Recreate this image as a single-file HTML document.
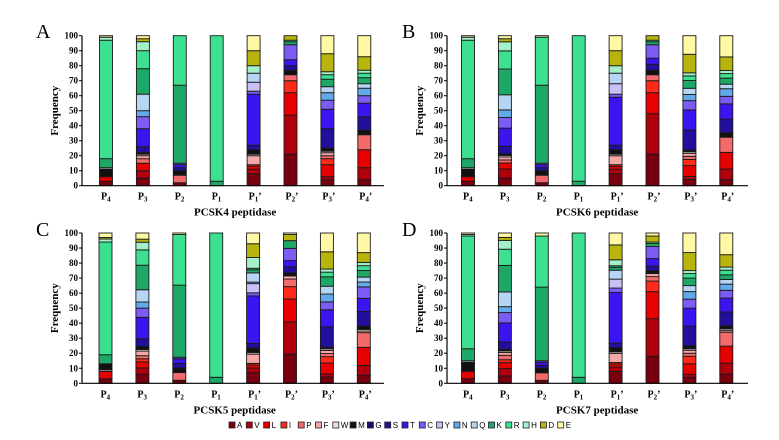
<!DOCTYPE html>
<html><head><meta charset="utf-8">
<style>
html,body{margin:0;padding:0;background:#fff;}
svg{display:block;font-family:"Liberation Serif",serif;}
</style></head>
<body>
<svg id="chart" width="779" height="440" viewBox="0 0 779 440"></svg>
<script>
const aminoAcids = ["A","V","L","I","P","F","W","M","G","S","T","C","Y","N","Q","K","R","H","D","E"];
const aaColors = ["#78000e","#b0000c","#e60000","#ff2a1a","#f26a6a","#f6a8a8","#f3dede","#111111","#14106a","#22109c","#3c14f0","#7c5cf4","#c9c0f8","#62aaea","#b6d4f4","#1ea868","#3ce090","#a4f0c8","#b8b40c","#fff8a4"];
const positions = ["P4","P3","P2","P1","P1'","P2'","P3'","P4'"];
const yTicks = [0,10,20,30,40,50,60,70,80,90,100];
// values per position, in aminoAcids order A..E
const pcsk4 = [
 [3,0,3,0,0,0,0,5,0,0,0,0,0,0,1,6,79,2,0,1],
 [5,5,5,0,3,2,1,1,0,4,12,8,0,4,11,17,12,6,2,2],
 [2,0,0,0,5,0,0,3,0,2,2,1,0,0,0,52,33,0,0,0],
 [0,0,0,0,0,0,0,0,0,0,0,0,0,0,0,3,97,0,0,0],
 [8,3,2,1,0,6,1,3,0,3,34,2,6,0,6,0,0,5,10,10],
 [21,26,15,8,4,0,0,3,0,3,4,10,0,0,0,2,1,0,3,0],
 [4,2,8,4,2,2,1,2,0,13,13,6,0,5,4,5,3,2,12,12],
 [4,8,12,0,10,0,0,3,0,9,9,5,0,5,3,4,3,2,9,14]
];
const pcsk6 = [
 [3,0,3,0,0,0,0,5,0,0,0,0,0,0,1,6,79,2,0,1],
 [5,6,4,0,2,2,1,1,0,5,12,7,0,5,10,17,12,6,2,2],
 [2,0,0,0,5,0,0,3,0,2,2,1,0,0,0,52,32,0,0,1],
 [0,0,0,0,0,0,0,0,0,0,0,0,0,0,0,3,97,0,0,0],
 [8,3,2,1,0,6,1,3,0,3,32,2,7,0,7,0,0,5,10,10],
 [21,27,14,8,4,0,0,3,0,4,4,9,0,0,0,2,1,0,3,0],
 [4,2,7,4,2,2,1,1,0,13,13,6,0,4,4,5,3,2,12,12],
 [4,7,11,0,10,0,0,3,0,9,10,5,0,5,3,4,3,2,9,14]
];
const pcsk5 = [
 [3,0,5,0,0,0,1,4,0,0,0,0,0,0,0,6,75,2,1,3],
 [6,4,4,2,2,3,1,2,0,5,14,6,0,4,8,16,10,5,2,4],
 [2,0,0,0,5,0,0,3,0,3,3,1,0,0,0,47,33,0,0,1],
 [0,0,0,0,0,0,0,0,0,0,0,0,0,0,0,4,96,0,0,0],
 [7,3,2,1,0,6,1,3,0,3,31,2,6,1,6,2,1,7,9,7],
 [19,21,15,8,5,2,0,2,0,4,4,8,0,0,0,5,0,0,4,1],
 [4,2,7,4,2,2,1,1,0,13,11,5,0,5,5,6,3,2,11,12],
 [5,6,11,0,9,1,1,2,0,9,8,7,0,3,3,4,3,2,6,12]
];
const pcsk7 = [
 [3,0,5,0,0,0,0,6,0,0,0,0,0,0,1,8,75,1,0,1],
 [5,5,4,2,3,2,1,1,0,5,13,7,0,4,10,18,11,6,2,3],
 [2,0,0,0,5,0,0,3,0,2,2,1,0,0,0,49,34,0,0,2],
 [0,0,0,0,0,0,0,0,0,0,0,0,0,0,0,4,96,0,0,0],
 [8,3,2,1,0,6,1,3,0,3,34,3,6,0,6,2,1,4,10,8],
 [18,25,18,7,3,2,0,2,0,3,5,8,0,0,0,2,1,0,4,2],
 [4,2,7,5,2,2,1,2,0,13,12,6,0,5,4,5,3,2,12,13],
 [6,7,11,0,9,1,1,2,0,9,9,5,0,4,3,3,3,2,8,14]
];
const panelTitles = ["PCSK4 peptidase","PCSK6 peptidase","PCSK5 peptidase","PCSK7 peptidase"];
const panelLetters = ["A","B","C","D"];
const panelData = [pcsk4,pcsk6,pcsk5,pcsk7];

const NS = "http://www.w3.org/2000/svg";
const svg = document.getElementById("chart");
function mk(tag, attrs, parent){
  const e = document.createElementNS(NS, tag);
  for (const k in attrs) e.setAttribute(k, attrs[k]);
  (parent||svg).appendChild(e);
  return e;
}
const layouts = [
  {axisX:82, y100:35.7, y0:185.7, firstBar:106, step:36.9, end:384, letterX:36, letterY:38},
  {axisX:447, y100:35.7, y0:185.7, firstBar:468, step:36.9, end:748, letterX:402, letterY:38},
  {axisX:82, y100:233, y0:383.3, firstBar:105.5, step:36.9, end:384, letterX:36, letterY:236},
  {axisX:447, y100:233, y0:383.3, firstBar:468, step:36.9, end:748, letterX:402, letterY:236}
];
const barW = 13;

layouts.forEach((L, pi) => {
  const g = mk("g", {});
  
  
  const yScale = v => L.y0 - (v/100)*(L.y0 - L.y100);
  const xScale = i => L.firstBar + i*L.step;

  const letter = mk("text", {x:L.letterX, y:L.letterY, "font-size":20, fill:"#000"}, g);
  letter.textContent = panelLetters[pi];
  
  

  const data = panelData[pi];
  data.forEach((vals, bi) => {
    const total = vals.reduce((a,b)=>a+b,0);
    let cum = 0;
    const bg = mk("g", {}, g);
    
    
    vals.forEach((v, ai) => {
      if (v <= 0) return;
      const v0 = cum/total*100, v1 = (cum+v)/total*100;
      cum += v;
      const r = mk("rect", {x:xScale(bi)-barW/2, y:yScale(v1), width:barW, height:yScale(v0)-yScale(v1),
        fill:aaColors[ai], stroke:"#1a1a1a", "stroke-width":0.9}, bg);
      
      
    });
  });

  const ax = mk("line", {x1:L.axisX, y1:L.y100, x2:L.axisX, y2:L.y0, stroke:"#000", "stroke-width":1.2}, g);
  
  
  const xa = mk("line", {x1:L.axisX, y1:L.y0, x2:L.end, y2:L.y0, stroke:"#000", "stroke-width":1.2}, g);
  
  
  yTicks.forEach(t => {
    mk("line", {x1:L.axisX-3, y1:yScale(t), x2:L.axisX, y2:yScale(t), stroke:"#000", "stroke-width":1}, g);
    const tl = mk("text", {x:L.axisX-4, y:yScale(t)+3, "font-size":9, "font-weight":"bold", "text-anchor":"end"}, g);
    tl.textContent = t;
    
    
  });
  positions.forEach((p, i) => {
    const tl = mk("text", {x:xScale(i)-5, y:L.y0+14, "font-size":10, "font-weight":"bold"}, g);
    
    
    const base = document.createElementNS(NS, "tspan"); base.textContent = "P"; tl.appendChild(base);
    const sub = document.createElementNS(NS, "tspan"); sub.setAttribute("font-size", 7); sub.setAttribute("dy", 2);
    sub.textContent = p.substring(1,2); tl.appendChild(sub);
    if (p.indexOf("'")>=0) { const pr = document.createElementNS(NS, "tspan"); pr.setAttribute("dy", -2); pr.textContent = "’"; tl.appendChild(pr); }
  });
  const yt = mk("text", {x:0, y:0, "font-size":11, "font-weight":"bold", "text-anchor":"middle",
    transform:`translate(${L.axisX-24},${(L.y0+L.y100)/2}) rotate(-90)`}, g);
  yt.textContent = "Frequency";
  
  
  const xt = mk("text", {x:(xScale(0)+xScale(7))/2, y:L.y0+30, "font-size":11, "font-weight":"bold", "text-anchor":"middle"}, g);
  xt.textContent = panelTitles[pi];
  
  
});

const lg = mk("g", {});


let lx = 229;
aminoAcids.forEach((a, i) => {
  const e = mk("g", {}, lg);
  
  
  mk("rect", {x:lx, y:422, width:6, height:6, fill:aaColors[i], stroke:"#222", "stroke-width":0.8}, e);
  const t = mk("text", {x:lx+8, y:428, "font-size":8, "font-family":"Liberation Sans, sans-serif"}, e);
  t.textContent = a;
  lx += 17.3;
});
</script>
</body></html>
